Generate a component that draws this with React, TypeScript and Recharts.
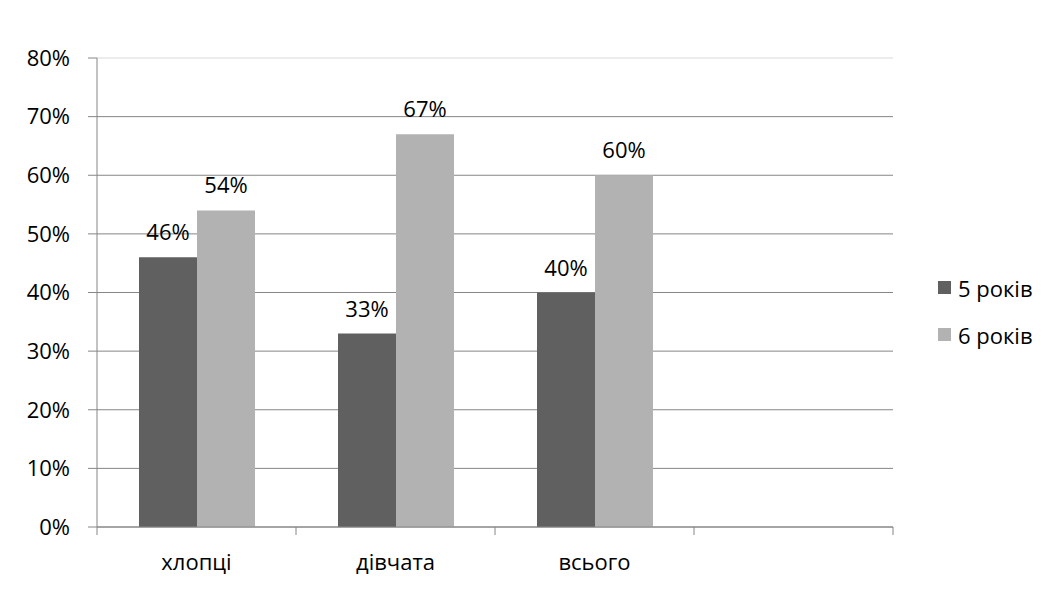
import { Bar, BarChart, CartesianGrid, LabelList, ReferenceLine, XAxis, YAxis } from "recharts";

const categories = ["хлопці", "дівчата", "всього", ""];
const fiveYears = [0.46, 0.33, 0.4, null];
const sixYears = [0.54, 0.67, 0.6, null];
const yTicks = [0, 0.1, 0.2, 0.3, 0.4, 0.5, 0.6, 0.7, 0.8];
const seriesNames = ["5 років", "6 років"];
const seriesColors = ["#606060", "#b2b2b2"];

const data = categories.map((c, i) => ({ name: c, five: fiveYears[i], six: sixYears[i] }));

const FONT = "'Open Sans', sans-serif";
const FS = 22;
const BAND = (893 - 97) / categories.length;
const pct = (v: number) => `${Math.round(v * 100)}%`;

function CategoryTick(props: any) {
  const { x, y, payload, index } = props;
  const left = x - BAND / 2;
  return (
    <g>
      <line x1={left} y1={y - 8} x2={left} y2={y} stroke="#868686" />
      {index === categories.length - 1 && (
        <line x1={left + BAND} y1={y - 8} x2={left + BAND} y2={y} stroke="#868686" />
      )}
      <text x={x} y={y + 35} textAnchor="middle" fontSize={FS} fill="#000" fontFamily={FONT}>
        {payload.value}
      </text>
    </g>
  );
}

function LegendBox() {
  return (
    <div style={{ position: "absolute", left: 938, top: 264, fontFamily: FONT, fontSize: FS, color: "#000" }}>
      {seriesNames.map((n, i) => (
        <div key={n} style={{ display: "flex", alignItems: "center", height: 47 }}>
          <span style={{ width: 13, height: 13, background: seriesColors[i], marginRight: 7 }} />
          <span>{n}</span>
        </div>
      ))}
    </div>
  );
}

export default function App() {
  return (
    <div style={{ position: "absolute", left: 0, top: 0, width: 1059, height: 594, background: "#fff" }}>
      <BarChart
        width={1059}
        height={594}
        data={data}
        margin={{ top: 58, right: 166, bottom: 27, left: 0 }}
        barCategoryGap={42}
        barGap={0}
      >
        <CartesianGrid vertical={false} stroke="#868686" />
        <ReferenceLine y={0.8} stroke="#ececec" strokeWidth={2} />
        <XAxis
          dataKey="name"
          axisLine={{ stroke: "#868686" }}
          tickLine={false}
          tick={<CategoryTick />}
          height={40}
          interval={0}
        />
        <YAxis
          width={97}
          domain={[0, 0.8]}
          ticks={yTicks}
          tickFormatter={pct}
          axisLine={{ stroke: "#868686" }}
          tickLine={{ stroke: "#868686" }}
          tickSize={9}
          tickMargin={18}
          tick={{ fill: "#000", fontSize: FS, fontFamily: FONT }}
        />
        <Bar dataKey="five" name={seriesNames[0]} fill={seriesColors[0]} isAnimationActive={false}>
          <LabelList dataKey="five" position="top" offset={17} formatter={(v: any) => (v == null ? "" : pct(v))} fill="#000" fontSize={FS} fontFamily={FONT} />
        </Bar>
        <Bar dataKey="six" name={seriesNames[1]} fill={seriesColors[1]} isAnimationActive={false}>
          <LabelList dataKey="six" position="top" offset={17} formatter={(v: any) => (v == null ? "" : pct(v))} fill="#000" fontSize={FS} fontFamily={FONT} />
        </Bar>
      </BarChart>
      <LegendBox />
    </div>
  );
}
